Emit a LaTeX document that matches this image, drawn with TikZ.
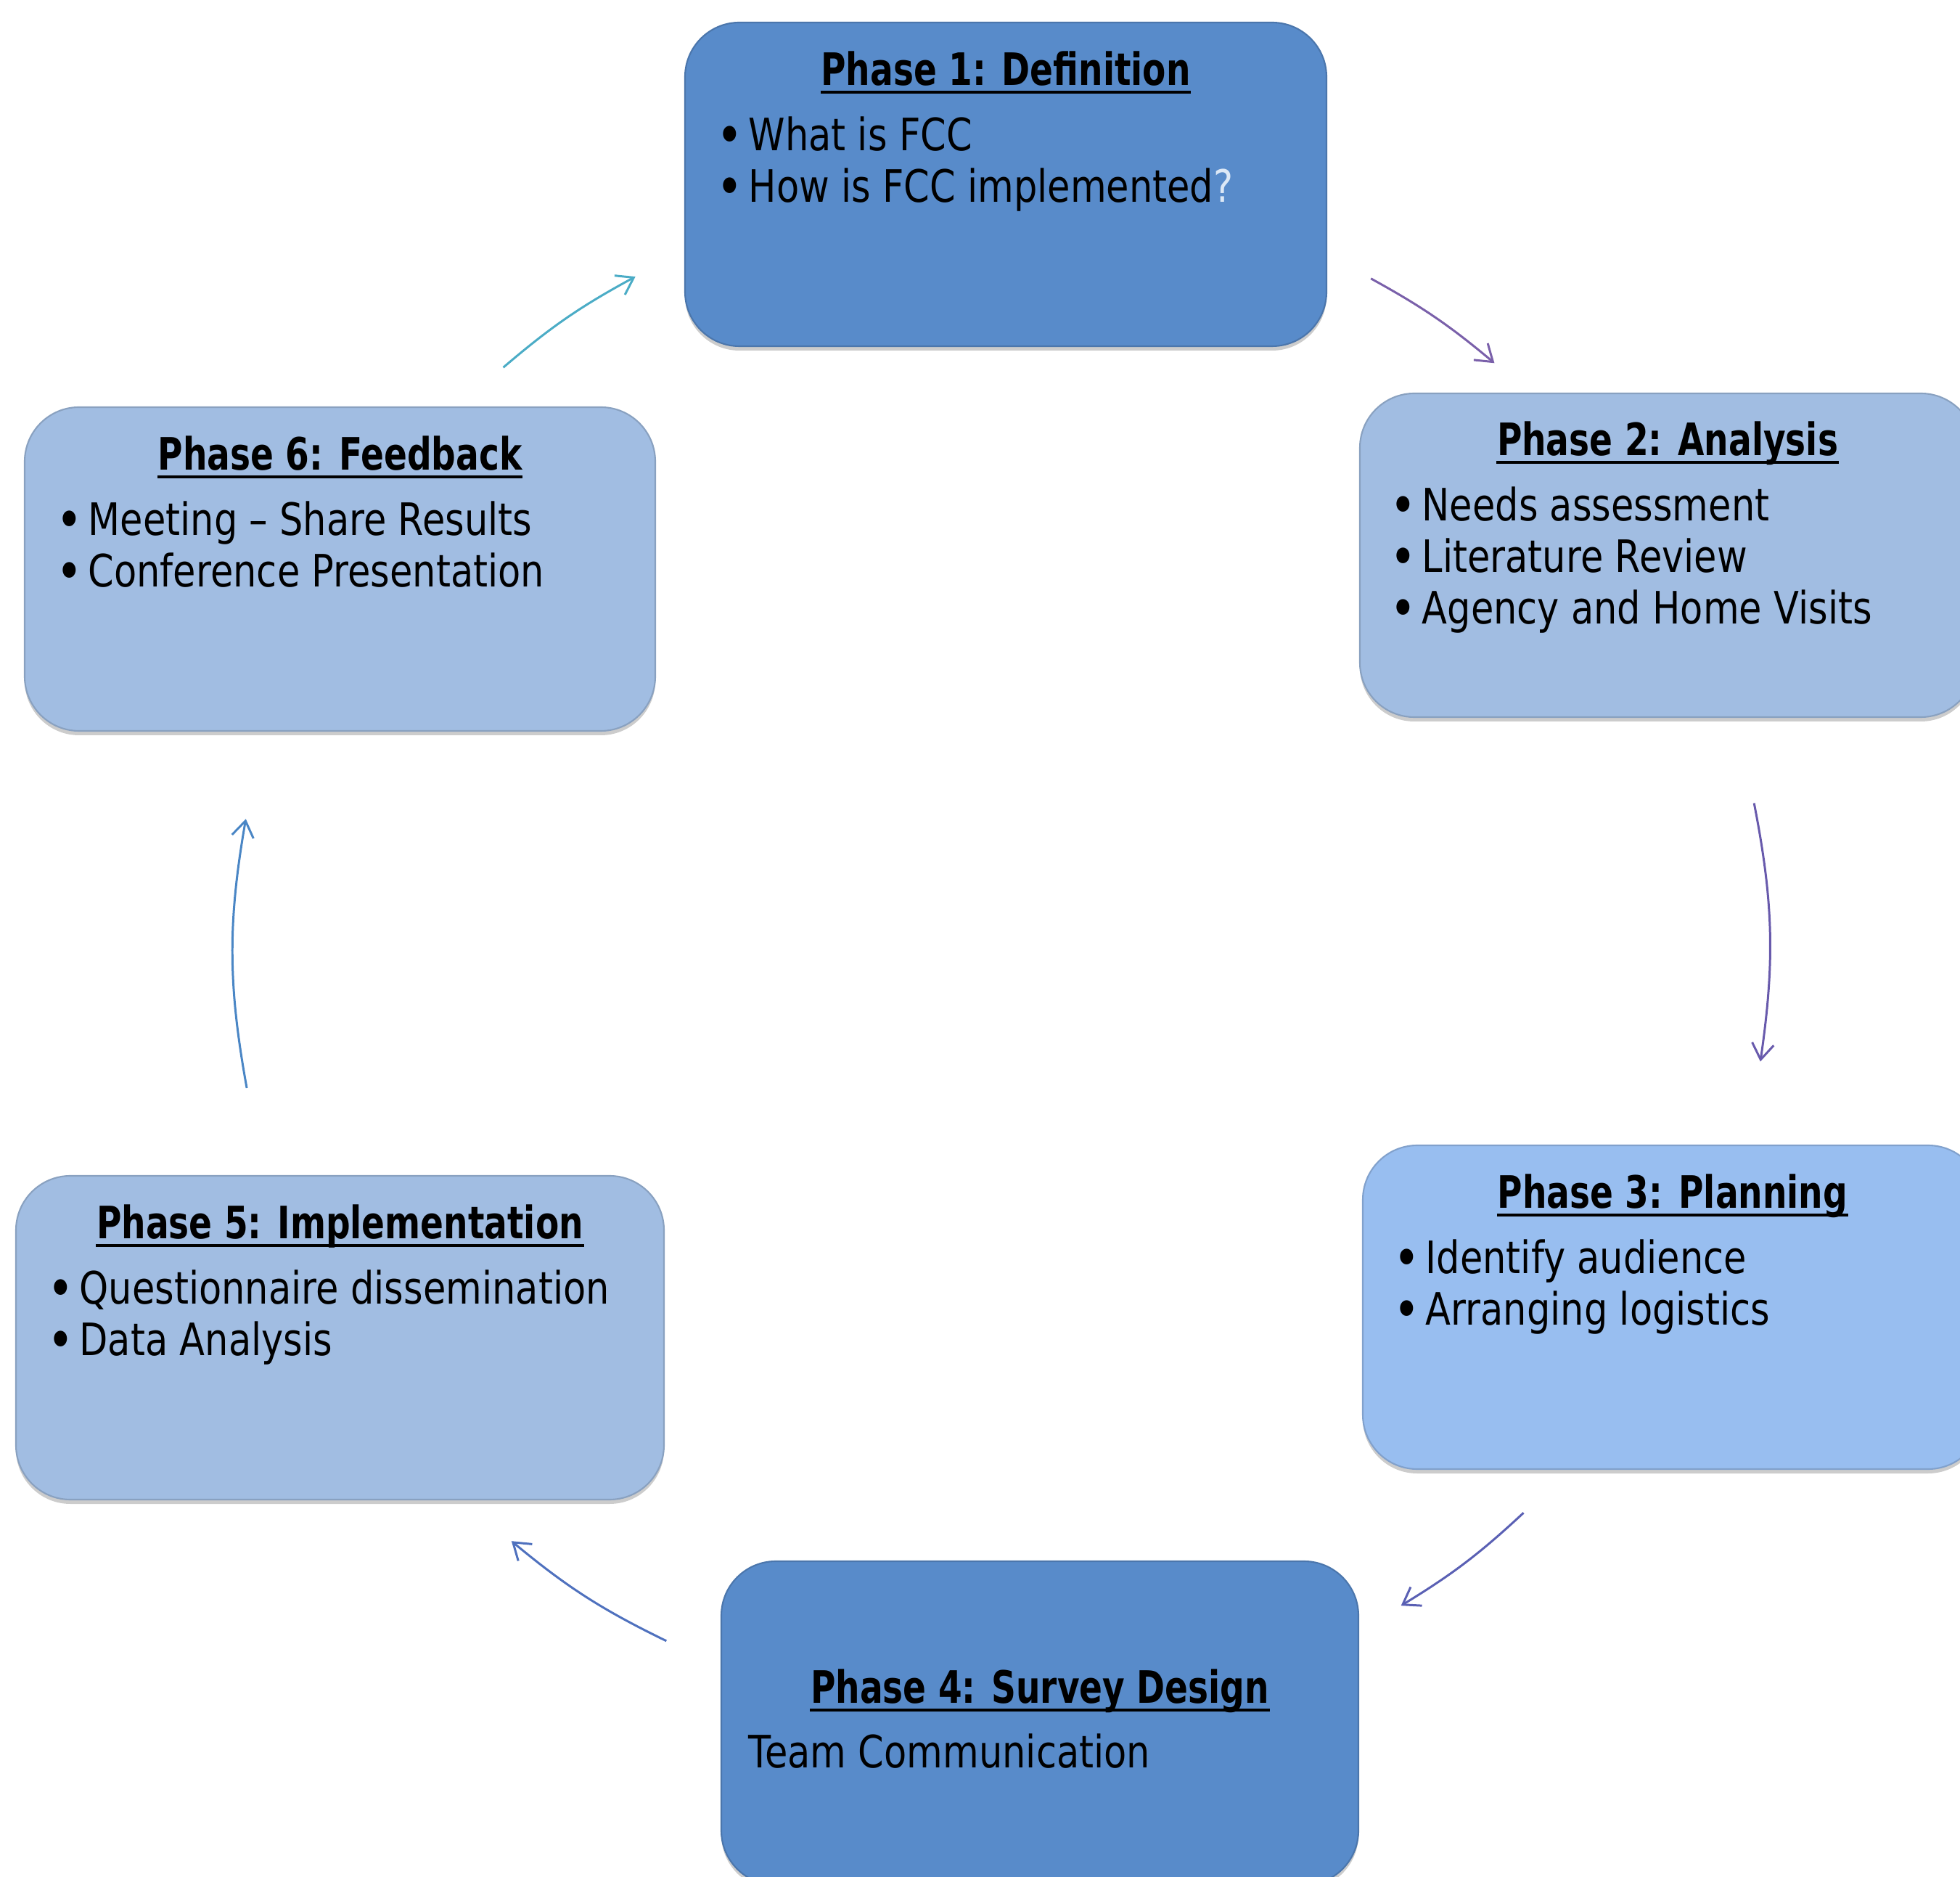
\documentclass[tikz,border=0pt]{standalone}
\usepackage{fontspec}
\setmainfont{DejaVu Sans}[FakeStretch=0.83]
\newfontfamily\headfont{DejaVu Sans}[FakeStretch=0.765]
\usetikzlibrary{positioning,shadows,arrows.meta}

\definecolor{darkbox}{RGB}{88,139,202}
\definecolor{lightbox}{RGB}{161,189,226}
\definecolor{skybox}{RGB}{152,190,240}
\definecolor{qmark}{RGB}{220,232,246}
\definecolor{arrowA}{RGB}{122,96,170}
\definecolor{arrowB}{RGB}{104,90,172}
\definecolor{arrowC}{RGB}{90,96,180}
\definecolor{arrowD}{RGB}{79,113,190}
\definecolor{arrowE}{RGB}{74,134,197}
\definecolor{arrowF}{RGB}{75,172,198}

\newcommand{\phasebullet}{\makebox[0.42cm][l]{\bfseries •}}

\begin{document}
\begin{tikzpicture}[
    every node/.style={font=\fontsize{17.5}{20.2}\selectfont},
    phase/.style={fill=#1, draw=#1!85!black, line width=0.6pt, rounded corners=0.75cm,
      minimum height=4.46cm, inner sep=0pt,
      drop shadow={shadow xshift=0pt, shadow yshift=-0.06cm, opacity=0.2, fill=black}},
    head/.style={anchor=base, inner sep=0pt, font=\fontsize{17.5}{20.2}\selectfont\headfont\bfseries},
    items/.style={anchor=base west, inner sep=0pt},
    uline/.style={line width=1.2pt},
    cyc/.style={line width=0.85pt, -{Straight Barb[length=2.2mm,width=3mm]}, bend left=#1}
  ]
  \useasboundingbox (0,0) rectangle (27.01,25.85);
  \clip (0,0) rectangle (27.01,25.85);

  % the six phases
  \node[phase=darkbox,  minimum width=8.84cm] (p1) at (13.86,23.31) {};
  \node[phase=lightbox, minimum width=8.48cm] (p2) at (22.98,18.20) {};
  \node[phase=skybox,   minimum width=8.54cm] (p3) at (23.05,7.84) {};
  \node[phase=darkbox,  minimum width=8.78cm] (p4) at (14.33,2.11) {};
  \node[phase=lightbox, minimum width=8.93cm] (p5) at (4.685,7.42) {};
  \node[phase=lightbox, minimum width=8.69cm] (p6) at (4.685,18.01) {};

  \node[head] (t1) at ([yshift=-0.88cm]p1.north) {Phase 1: Definition};
  \node[items] (l1) at ([xshift=0.46cm,yshift=-1.78cm]p1.north west)
    {\begin{tabular}[t]{@{}l@{}}\phasebullet What is FCC\\ \phasebullet How is FCC implemented\textcolor{qmark}{?}\end{tabular}};

  \node[head] (t2) at ([yshift=-0.87cm]p2.north) {Phase 2: Analysis};
  \node[items] (l2) at ([xshift=0.44cm,yshift=-1.77cm]p2.north west)
    {\begin{tabular}[t]{@{}l@{}}\phasebullet Needs assessment\\ \phasebullet Literature Review\\ \phasebullet Agency and Home Visits\end{tabular}};

  \node[head] (t3) at ([yshift=-0.88cm]p3.north) {Phase 3: Planning};
  \node[items] (l3) at ([xshift=0.45cm,yshift=-1.78cm]p3.north west)
    {\begin{tabular}[t]{@{}l@{}}\phasebullet Identify audience\\ \phasebullet Arranging logistics\end{tabular}};

  \node[head] (t4) at ([yshift=-1.97cm]p4.north) {Phase 4: Survey Design};
  \node[items] (l4) at ([xshift=0.38cm,yshift=-2.86cm]p4.north west) {Team Communication};

  \node[head] (t5) at ([yshift=-0.88cm]p5.north) {Phase 5: Implementation};
  \node[items] (l5) at ([xshift=0.46cm,yshift=-1.78cm]p5.north west)
    {\begin{tabular}[t]{@{}l@{}}\phasebullet Questionnaire dissemination\\ \phasebullet Data Analysis\end{tabular}};

  \node[head] (t6) at ([yshift=-0.88cm]p6.north) {Phase 6: Feedback};
  \node[items] (l6) at ([xshift=0.46cm,yshift=-1.78cm]p6.north west)
    {\begin{tabular}[t]{@{}l@{}}\phasebullet Meeting -- Share Results\\ \phasebullet Conference Presentation\end{tabular}};

  % underlines of the headings
  \draw[uline] ([yshift=-0.09cm]t1.base west) -- ([yshift=-0.09cm]t1.base east);
  \draw[uline] ([yshift=-0.09cm]t2.base west) -- ([yshift=-0.09cm]t2.base east);
  \draw[uline] ([yshift=-0.09cm]t3.base west) -- ([yshift=-0.09cm]t3.base east);
  \draw[uline] ([yshift=-0.09cm]t4.base west) -- ([yshift=-0.09cm]t4.base east);
  \draw[uline] ([yshift=-0.09cm]t5.base west) -- ([yshift=-0.09cm]t5.base east);
  \draw[uline] ([yshift=-0.09cm]t6.base west) -- ([yshift=-0.09cm]t6.base east);

  % arrows round the cycle
  \coordinate (hub) at (13.80,12.75);
  \path (hub) +(61.2:10.57) coordinate (a12) +(50.0:10.57) coordinate (b12)
              +(11.1:10.57) coordinate (a23) +(-8.3:10.57) coordinate (b23)
              +(-47.1:10.57) coordinate (a34) +(-58.6:10.57) coordinate (b34)
              +(-115.9:10.57) coordinate (a45) +(-129.7:10.57) coordinate (b45)
              +(190.3:10.57) coordinate (a56) +(170.1:10.57) coordinate (b56)
              +(130.5:10.57) coordinate (a61) +(118.5:10.57) coordinate (b61);
  \draw[cyc=5.6, arrowA] (a12) to (b12);
  \draw[cyc=9.7, arrowB] (a23) to (b23);
  \draw[cyc=5.8, arrowC] (a34) to (b34);
  \draw[cyc=6.9, arrowD] (a45) to (b45);
  \draw[cyc=10.1, arrowE] (a56) to (b56);
  \draw[cyc=6.0, arrowF] (a61) to (b61);
\end{tikzpicture}
\end{document}
